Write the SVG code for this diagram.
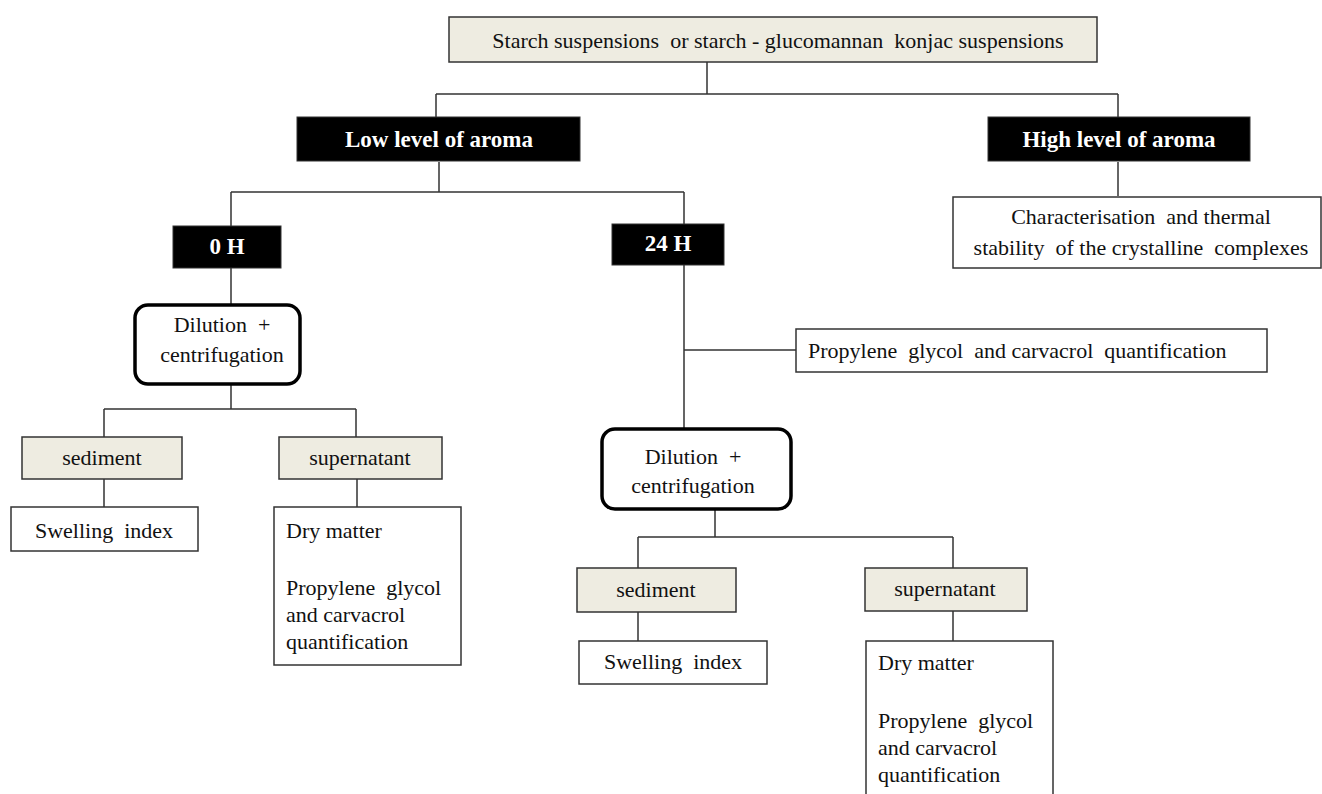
<svg xmlns="http://www.w3.org/2000/svg" width="1322" height="794" viewBox="0 0 1322 794">
<style>
.t{font-family:"Liberation Serif","Times New Roman",serif;font-size:22px;fill:#111}
.tb{font-family:"Liberation Serif","Times New Roman",serif;font-size:23px;font-weight:bold;fill:#fff}
.beige{fill:#eeece1;stroke:#333;stroke-width:1.5}
.white{fill:#fff;stroke:#333;stroke-width:1.5}
.black{fill:#000;stroke:#333;stroke-width:1}
.round{fill:#fff;stroke:#000;stroke-width:3.5}
.c{fill:none;stroke:#333;stroke-width:1.5}
</style>
<rect width="1322" height="794" fill="#fff"/>
<g id="connectors">
<path class="c" d="M707 62V94M436 94H1118M436 94V117M1118 94V117"/>
<path class="c" d="M1118 162V196"/>
<path class="c" d="M439 162V192M231 192H684M231 192V226M684 192V224"/>
<path class="c" d="M231 268V305"/>
<path class="c" d="M231 384V409M104 409H356M104 409V437M356 409V437"/>
<path class="c" d="M104 479V507M357 479V507"/>
<path class="c" d="M684 265V429M684 350H796"/>
<path class="c" d="M715 509V537M638 537H953M638 537V568M953 537V568"/>
<path class="c" d="M638 612V641M953 611V641"/>
</g>
<g id="top">
<rect class="beige" x="449" y="17" width="648" height="45"/>
<text class="t" x="778" y="48" text-anchor="middle" xml:space="preserve">Starch suspensions  or starch - glucomannan  konjac suspensions</text>
</g>
<g id="low">
<rect class="black" x="297" y="117" width="283" height="44"/>
<text class="tb" x="439" y="147" text-anchor="middle">Low level of aroma</text>
</g>
<g id="high">
<rect class="black" x="988" y="117" width="262" height="44"/>
<text class="tb" x="1119" y="147" text-anchor="middle">High level of aroma</text>
</g>
<g id="charac">
<rect class="white" x="953" y="197" width="368" height="71"/>
<text class="t" x="1141" y="224" text-anchor="middle" xml:space="preserve">Characterisation  and thermal</text>
<text class="t" x="1141" y="255" text-anchor="middle" xml:space="preserve">stability  of the crystalline  complexes</text>
</g>
<g id="h0">
<rect class="black" x="173" y="226" width="108" height="42"/>
<text class="tb" x="227" y="254" text-anchor="middle">0 H</text>
</g>
<g id="h24">
<rect class="black" x="612" y="224" width="112" height="41"/>
<text class="tb" x="668" y="251" text-anchor="middle">24 H</text>
</g>
<g id="dil1">
<rect class="round" x="135" y="305" width="165" height="79" rx="13"/>
<text class="t" x="222" y="332" text-anchor="middle" xml:space="preserve">Dilution  +</text>
<text class="t" x="222" y="362" text-anchor="middle">centrifugation</text>
</g>
<g id="sed1">
<rect class="beige" x="22" y="437" width="160" height="42"/>
<text class="t" x="102" y="465" text-anchor="middle">sediment</text>
</g>
<g id="sup1">
<rect class="beige" x="279" y="437" width="163" height="42"/>
<text class="t" x="360" y="465" text-anchor="middle">supernatant</text>
</g>
<g id="swell1">
<rect class="white" x="11" y="507" width="187" height="44"/>
<text class="t" x="104" y="538" text-anchor="middle" xml:space="preserve">Swelling  index</text>
</g>
<g id="dry1">
<rect class="white" x="274" y="507" width="187" height="158"/>
<text class="t" x="286" y="538">Dry matter</text>
<text class="t" x="286" y="595" xml:space="preserve">Propylene  glycol</text>
<text class="t" x="286" y="622">and carvacrol</text>
<text class="t" x="286" y="649">quantification</text>
</g>
<g id="pgq">
<rect class="white" x="796" y="329" width="471" height="43"/>
<text class="t" x="808" y="358" xml:space="preserve">Propylene  glycol  and carvacrol  quantification</text>
</g>
<g id="dil2">
<rect class="round" x="602" y="429" width="189" height="80" rx="13"/>
<text class="t" x="693" y="464" text-anchor="middle" xml:space="preserve">Dilution  +</text>
<text class="t" x="693" y="493" text-anchor="middle">centrifugation</text>
</g>
<g id="sed2">
<rect class="beige" x="577" y="568" width="159" height="44"/>
<text class="t" x="656" y="597" text-anchor="middle">sediment</text>
</g>
<g id="sup2">
<rect class="beige" x="865" y="568" width="162" height="43"/>
<text class="t" x="945" y="596" text-anchor="middle">supernatant</text>
</g>
<g id="swell2">
<rect class="white" x="579" y="641" width="188" height="43"/>
<text class="t" x="673" y="669" text-anchor="middle" xml:space="preserve">Swelling  index</text>
</g>
<g id="dry2">
<rect class="white" x="866" y="641" width="187" height="160"/>
<text class="t" x="878" y="670">Dry matter</text>
<text class="t" x="878" y="728" xml:space="preserve">Propylene  glycol</text>
<text class="t" x="878" y="755">and carvacrol</text>
<text class="t" x="878" y="782">quantification</text>
</g>
</svg>
